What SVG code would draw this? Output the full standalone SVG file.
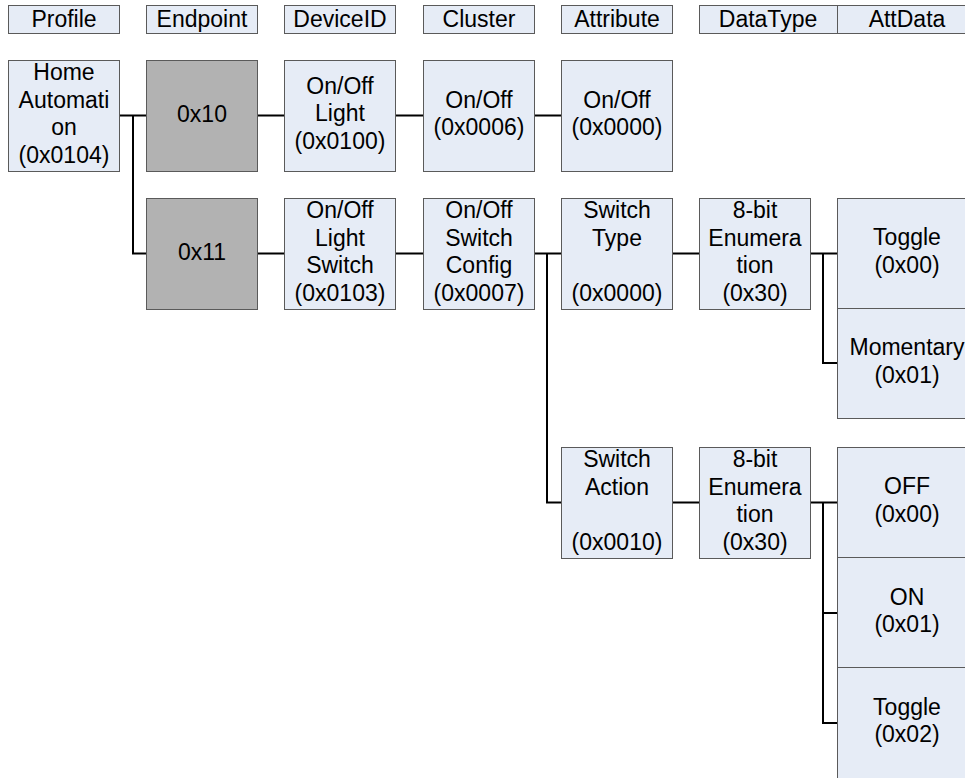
<svg xmlns="http://www.w3.org/2000/svg" width="965" height="778" viewBox="0 0 965 778">
<style>
.n{fill:#E6ECF6;stroke:#5A5A5A;stroke-width:1}
.g{fill:#B2B2B2;stroke:#5A5A5A;stroke-width:1}
text{font-family:"Liberation Sans",Arial,sans-serif;font-size:23px;fill:#000;text-anchor:middle}
.c{fill:none;stroke:#000;stroke-width:2}
</style>
<rect width="965" height="778" fill="#fff"/>
<g id="headers">
<g id="h-profile"><rect class="n" x="8.5" y="5.5" width="111" height="28"/><text x="64" y="27">Profile</text></g>
<g id="h-endpoint"><rect class="n" x="146.5" y="5.5" width="111" height="28"/><text x="202" y="27">Endpoint</text></g>
<g id="h-deviceid"><rect class="n" x="284.5" y="5.5" width="111" height="28"/><text x="340" y="27">DeviceID</text></g>
<g id="h-cluster"><rect class="n" x="423.5" y="5.5" width="111" height="28"/><text x="479" y="27">Cluster</text></g>
<g id="h-attribute"><rect class="n" x="561.5" y="5.5" width="111" height="28"/><text x="617" y="27">Attribute</text></g>
<g id="h-datatype"><rect class="n" x="699.5" y="5.5" width="138" height="28"/><text x="768" y="27">DataType</text></g>
<g id="h-attdata"><rect class="n" x="837.5" y="5.5" width="140" height="28"/><text x="907" y="27">AttData</text></g>
</g>
<g id="connectors">
<path class="c" d="M119 115.5H147M133 115.5V253.5H147"/>
<path class="c" d="M257 115.5H284M395 115.5H423M534 115.5H561"/>
<path class="c" d="M257 253.5H284M395 253.5H423M534 253.5H561M547 253.5V502.5H561"/>
<path class="c" d="M672 253.5H699M810 253.5H837M823 253.5V363H837"/>
<path class="c" d="M672 502.5H699M810 502.5H837M823 502.5V723H837M823 613H837"/>
</g>
<g id="home"><rect class="n" x="8.5" y="60.5" width="111" height="111"/><text x="64"><tspan x="64" y="80">Home</tspan><tspan x="64" y="107.5">Automati</tspan><tspan x="64" y="135">on</tspan><tspan x="64" y="162.5">(0x0104)</tspan></text></g>
<g id="ep10"><rect class="g" x="146.5" y="60.5" width="111" height="111"/><text x="202" y="122">0x10</text></g>
<g id="dev-light"><rect class="n" x="284.5" y="60.5" width="111" height="111"/><text><tspan x="340" y="93.5">On/Off</tspan><tspan x="340" y="121">Light</tspan><tspan x="340" y="148.5">(0x0100)</tspan></text></g>
<g id="cl-onoff"><rect class="n" x="423.5" y="60.5" width="111" height="111"/><text><tspan x="479" y="107.5">On/Off</tspan><tspan x="479" y="135">(0x0006)</tspan></text></g>
<g id="at-onoff"><rect class="n" x="561.5" y="60.5" width="111" height="111"/><text><tspan x="617" y="107.5">On/Off</tspan><tspan x="617" y="135">(0x0000)</tspan></text></g>
<g id="ep11"><rect class="g" x="146.5" y="198.5" width="111" height="111"/><text x="202" y="260">0x11</text></g>
<g id="dev-switch"><rect class="n" x="284.5" y="198.5" width="111" height="111"/><text><tspan x="340" y="218">On/Off</tspan><tspan x="340" y="245.5">Light</tspan><tspan x="340" y="273">Switch</tspan><tspan x="340" y="300.5">(0x0103)</tspan></text></g>
<g id="cl-swcfg"><rect class="n" x="423.5" y="198.5" width="111" height="111"/><text><tspan x="479" y="218">On/Off</tspan><tspan x="479" y="245.5">Switch</tspan><tspan x="479" y="273">Config</tspan><tspan x="479" y="300.5">(0x0007)</tspan></text></g>
<g id="at-swtype"><rect class="n" x="561.5" y="198.5" width="111" height="111"/><text><tspan x="617" y="218">Switch</tspan><tspan x="617" y="245.5">Type</tspan><tspan x="617" y="300.5">(0x0000)</tspan></text></g>
<g id="dt-1"><rect class="n" x="699.5" y="198.5" width="111" height="111"/><text><tspan x="755" y="218">8-bit</tspan><tspan x="755" y="245.5">Enumera</tspan><tspan x="755" y="273">tion</tspan><tspan x="755" y="300.5">(0x30)</tspan></text></g>
<g id="ad-toggle"><rect class="n" x="837.5" y="198.5" width="140" height="110"/><text><tspan x="907" y="245">Toggle</tspan><tspan x="907" y="272.5">(0x00)</tspan></text></g>
<g id="ad-momentary"><rect class="n" x="837.5" y="308.5" width="140" height="110"/><text><tspan x="907" y="355">Momentary</tspan><tspan x="907" y="382.5">(0x01)</tspan></text></g>
<g id="at-swaction"><rect class="n" x="561.5" y="447.5" width="111" height="111"/><text><tspan x="617" y="467">Switch</tspan><tspan x="617" y="494.5">Action</tspan><tspan x="617" y="549.5">(0x0010)</tspan></text></g>
<g id="dt-2"><rect class="n" x="699.5" y="447.5" width="111" height="111"/><text><tspan x="755" y="467">8-bit</tspan><tspan x="755" y="494.5">Enumera</tspan><tspan x="755" y="522">tion</tspan><tspan x="755" y="549.5">(0x30)</tspan></text></g>
<g id="ad-off"><rect class="n" x="837.5" y="447.5" width="140" height="110"/><text><tspan x="907" y="494">OFF</tspan><tspan x="907" y="521.5">(0x00)</tspan></text></g>
<g id="ad-on"><rect class="n" x="837.5" y="557.5" width="140" height="110"/><text><tspan x="907" y="604.5">ON</tspan><tspan x="907" y="632">(0x01)</tspan></text></g>
<g id="ad-toggle2"><rect class="n" x="837.5" y="667.5" width="140" height="115"/><text><tspan x="907" y="714.5">Toggle</tspan><tspan x="907" y="742">(0x02)</tspan></text></g>
</svg>
